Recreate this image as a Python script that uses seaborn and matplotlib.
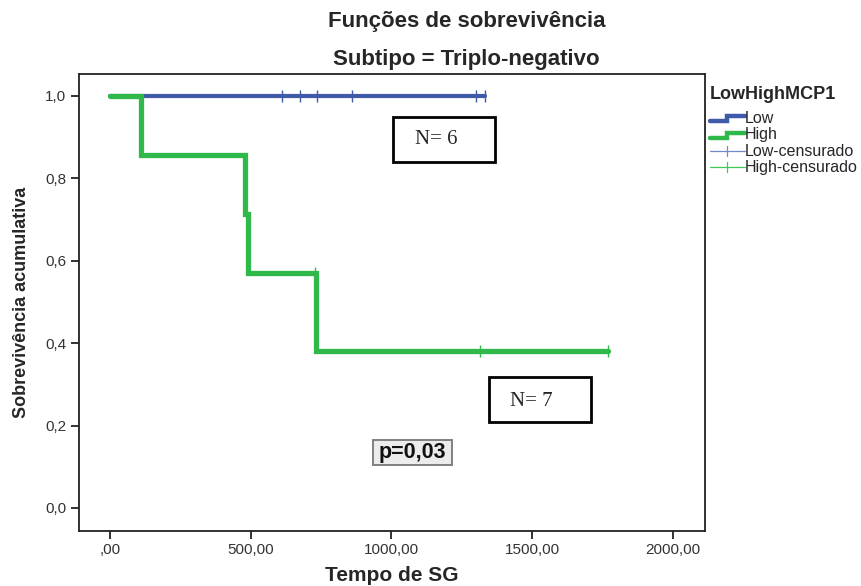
import numpy as np
import pandas as pd
import matplotlib
matplotlib.use("Agg")
import matplotlib.pyplot as plt
from matplotlib.lines import Line2D
from matplotlib.patches import Rectangle
from matplotlib.legend_handler import HandlerBase
import seaborn as sns

# Survival times (days) and event flags (1 = death, 0 = censored) per group
low_times = [611, 675, 735, 860, 1300, 1332]
low_events = [0, 0, 0, 0, 0, 0]
high_times = [110, 480, 490, 728, 732, 1314, 1769]
high_events = [1, 1, 1, 0, 1, 0, 0]

groups = ["Low", "High"]
colors = {"Low": "#3f5aa8", "High": "#2fb94b"}
widths = {"Low": 3.0, "High": 3.8}

x_ticks = [0, 500, 1000, 1500, 2000]
x_ticklabels = [",00", "500,00", "1000,00", "1500,00", "2000,00"]
y_ticks = [0.0, 0.2, 0.4, 0.6, 0.8, 1.0]
y_ticklabels = ["0,0", "0,2", "0,4", "0,6", "0,8", "1,0"]


def kaplan_meier(times, events):
    order = np.argsort(times, kind="stable")
    t = np.asarray(times, float)[order]
    e = np.asarray(events)[order]
    at_risk = len(t)
    s = 1.0
    xs, ys = [0.0], [1.0]
    cens_x, cens_y = [], []
    for ti, ei in zip(t, e):
        if ei:
            s *= (at_risk - 1) / at_risk
        else:
            cens_x.append(ti)
            cens_y.append(s)
        xs.append(ti)
        ys.append(s)
        at_risk -= 1
    return xs, ys, cens_x, cens_y


curves = []
censors = []
for g, tt, ee in [("Low", low_times, low_events), ("High", high_times, high_events)]:
    xs, ys, cx, cy = kaplan_meier(tt, ee)
    curves.append(pd.DataFrame({"tempo": xs, "surv": ys, "grupo": g}))
    censors.append(pd.DataFrame({"tempo": cx, "surv": cy, "grupo": g}))
curve_df = pd.concat(curves, ignore_index=True)
cens_df = pd.concat(censors, ignore_index=True)

sns.set_theme(style="white")
plt.rcParams["font.family"] = ["Liberation Sans", "DejaVu Sans"]

fig = plt.figure(figsize=(8.62, 5.86), dpi=100)
ax = fig.add_axes([0.0916, 0.0939, 0.7262, 0.7799])

for g in groups:
    d = curve_df[curve_df["grupo"] == g]
    sns.lineplot(data=d, x="tempo", y="surv", ax=ax, color=colors[g],
                 lw=widths[g], drawstyle="steps-post", estimator=None,
                 sort=False, legend=False, solid_joinstyle="miter")
    c = cens_df[cens_df["grupo"] == g]
    ax.plot(c["tempo"], c["surv"], linestyle="none", marker="|",
            markersize=8, markeredgewidth=1.0, color=colors[g])

ax.set_xlim(-110, 2114)
ax.set_ylim(-0.0558, 1.0534)
ax.set_xticks(x_ticks)
ax.set_xticklabels(x_ticklabels)
ax.set_yticks(y_ticks)
ax.set_yticklabels(y_ticklabels)
ax.tick_params(axis="both", length=6, width=1.3, color="#222222",
               labelsize=11, labelcolor="#333333", direction="out",
               bottom=True, left=True, pad=3)
for sp in ax.spines.values():
    sp.set_color("#222222")
    sp.set_linewidth(1.3)

ax.set_xlabel("Tempo de SG", fontsize=15, fontweight="bold", labelpad=6)
ax.set_ylabel("Sobrevivência acumulativa", fontsize=13, fontweight="bold",
              labelpad=11)

fig.text(0.541, 0.964, "Funções de sobrevivência", ha="center", va="center",
         fontsize=16, fontweight="bold")
fig.text(0.541, 0.899, "Subtipo = Triplo-negativo", ha="center", va="center",
         fontsize=16, fontweight="bold")

# Annotation boxes (group sizes and log-rank p-value)
serif = ["Liberation Serif", "DejaVu Serif"]
ax.add_patch(Rectangle((1005, 0.840), 363, 0.109, fill=True, fc="white",
                       ec="black", lw=2.0, zorder=4))
ax.text(1160, 0.894, "N= 6", ha="center", va="center", fontsize=15,
        family=serif, zorder=5)
ax.add_patch(Rectangle((1346, 0.209), 363, 0.109, fill=True, fc="white",
                       ec="black", lw=2.0, zorder=4))
ax.text(1497, 0.258, "N= 7", ha="center", va="center", fontsize=15,
        family=serif, zorder=5)
ax.add_patch(Rectangle((934, 0.104), 281, 0.061, fill=True, fc="#ececec",
                       ec="#808080", lw=1.4, zorder=4))
ax.text(1073, 0.134, "p=0,03", ha="center", va="center", fontsize=15.5,
        fontweight="bold", color="#111111", zorder=5)


class StepHandler(HandlerBase):
    def __init__(self, color, lw):
        super().__init__()
        self.color = color
        self.lw = lw

    def create_artists(self, legend, orig_handle, xd, yd, w, h, fontsize, trans):
        xs = [xd, xd + w * 0.5, xd + w * 0.5, xd + w]
        ys = [yd + h * 0.15, yd + h * 0.15, yd + h * 0.6, yd + h * 0.6]
        ln = Line2D(xs, ys, color=self.color, lw=self.lw, transform=trans,
                    solid_joinstyle="miter")
        return [ln]


class CensHandler(HandlerBase):
    def __init__(self, color):
        super().__init__()
        self.color = color

    def create_artists(self, legend, orig_handle, xd, yd, w, h, fontsize, trans):
        y = yd + h * 0.4
        a = Line2D([xd, xd + w], [y, y], color=self.color, lw=0.9, transform=trans)
        b = Line2D([xd + w / 2, xd + w / 2], [y - h * 0.45, y + h * 0.45],
                   color=self.color, lw=0.9, transform=trans)
        return [a, b]


h_low, h_high, h_lc, h_hc = (object(), object(), object(), object())
leg = fig.legend([h_low, h_high, h_lc, h_hc],
                 ["Low", "High", "Low-censurado", "High-censurado"],
                 handler_map={h_low: StepHandler(colors["Low"], 3.2),
                              h_high: StepHandler(colors["High"], 3.2),
                              h_lc: CensHandler("#7088cc"),
                              h_hc: CensHandler("#40c85a")},
                 loc="upper left", bbox_to_anchor=(0.818, 0.862),
                 frameon=False, fontsize=11.5, title="LowHighMCP1",
                 title_fontproperties={"weight": "bold", "size": 13},
                 handlelength=2.2, handletextpad=0.0, labelspacing=0.08,
                 borderaxespad=0.0, borderpad=0.3, alignment="left")
leg._legend_box.sep = 6

fig.savefig("out.png", dpi=100)
